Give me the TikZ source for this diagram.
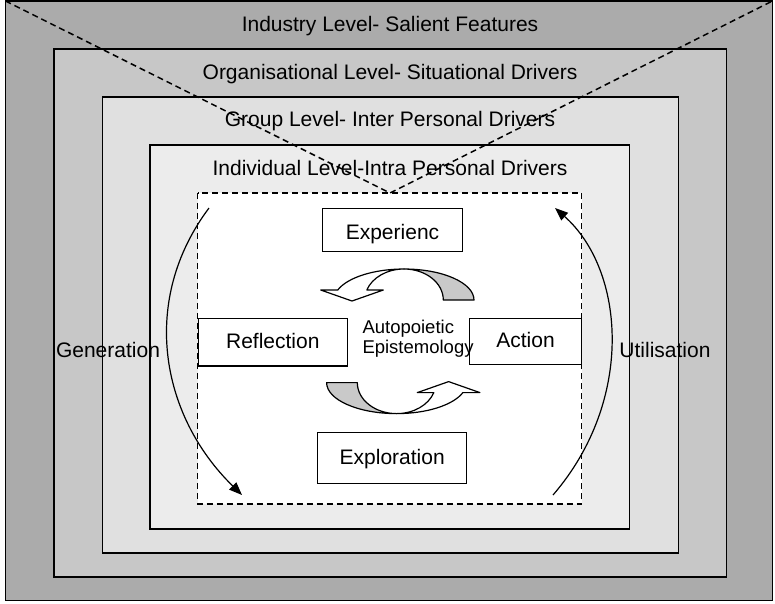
\documentclass[tikz,border=0pt]{standalone}
\usepackage{fontspec}
\setmainfont{Liberation Sans}
\usetikzlibrary{arrows.meta}

\definecolor{industrygray}{gray}{0.67}
\definecolor{orggray}{gray}{0.78}
\definecolor{groupgray}{gray}{0.88}
\definecolor{indivgray}{gray}{0.925}
\definecolor{backgray}{gray}{0.79}

\begin{document}
\begin{tikzpicture}[
    x = 1pt,
    y = -1pt,
    level/.style = {draw, line width=1.6pt},
    levelname/.style = {anchor=base, inner sep=0pt, font=\fontsize{21}{25}\selectfont},
    ghostline/.style = {line width=1.5pt, dash pattern=on 6pt off 4pt},
    stage/.style = {draw, fill=white, line width=1.5pt, inner sep=0pt,
      text height=15pt, text depth=3pt, font=\fontsize{21}{25}\selectfont},
    cyclearrow/.style = {draw=black, line width=1.2pt, line join=round},
    flow/.style = {-{Triangle[length=13pt, width=10pt]}, line width=1.2pt},
    ]
    \useasboundingbox (0,0) rectangle (775,603);
    % level blocks
    \draw[level, fill=industrygray] (5.5,1) rectangle (772.5,600.5);
    \draw[level, fill=orggray] (54,49) rectangle (726.5,577);
    \draw[level, fill=groupgray] (102.3,97) rectangle (678.3,553);
    \draw[level, fill=indivgray] (150,145) rectangle (629.5,529);
    % inner dashed block
    \draw[ghostline, fill=white] (197.5,193) rectangle (581.7,504);
    % funnel lines
    \coordinate (topleft) at (5.5,1);
    \coordinate (topright) at (772.5,1);
    \coordinate (apex) at (390,193);
    \draw[ghostline] (topleft) -- (apex) -- (topright);
    % level names
    \node[levelname] (industry) at (390,31) {Industry Level- Salient Features};
    \node[levelname] (organisation) at (390,79) {Organisational Level- Situational Drivers};
    \node[levelname] (group) at (390,126) {Group Level- Inter Personal Drivers};
    \node[levelname] (individual) at (390,175) {Individual Level-Intra Personal Drivers};
    % stages
    \node[stage, minimum width=139.6pt, minimum height=43.4pt, text height=21pt]
    (experience) at (392.5,230) {Experienc};
    \node[stage, minimum width=149pt, minimum height=47.7pt]
    (reflection) at (272.8,342.2) {Reflection};
    \node[stage, minimum width=112.4pt, minimum height=46pt]
    (action) at (525.5,341.3) {Action};
    \node[stage, minimum width=149pt, minimum height=50.6pt]
    (exploration) at (392.2,458) {Exploration};
    \node[anchor=west, align=left, inner sep=0pt, font=\fontsize{18.5}{20}\selectfont]
    (autopoiesis) at (362.3,338.6) {Autopoietic\\Epistemology};
    % cycle arrows
    \foreach \ang in {0, 180}
    {
      \begin{scope}[rotate around={\ang:(400.3,341.3)}]
        \path[cyclearrow, fill=backgray] (474,300)
        arc[start angle=0, end angle=-90, x radius=70, y radius=31]
        arc[start angle=-90, end angle=0, x radius=39.3, y radius=31] -- cycle;
        \path[cyclearrow, fill=white] (404,269)
        arc[start angle=270, end angle=198.8, x radius=70, y radius=31]
        -- (320.7,290) -- (352,301) -- (383.3,290) -- (366.8,290)
        arc[start angle=198.8, end angle=270, x radius=39.3, y radius=31] -- cycle;
      \end{scope}
    }
    % generation and utilisation
    \coordinate (genstart) at (209,208);
    \coordinate (genend) at (242,495);
    \coordinate (utilstart) at (553,495);
    \coordinate (utilend) at (555,208);
    \draw[flow] (genstart) .. controls (140,300) and (160,415) .. (genend);
    \draw[flow] (utilstart) .. controls (635,400) and (625,270) .. (utilend);
    \node[levelname] (generation) at (108,357.3) {Generation};
    \node[levelname] (utilisation) at (665,357.3) {Utilisation};
  \end{tikzpicture}
\end{document}
